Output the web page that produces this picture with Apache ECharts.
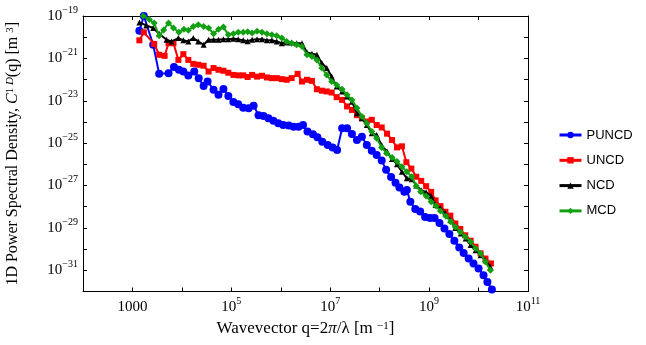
<!DOCTYPE html>
<html>
<head>
<meta charset="utf-8">
<script src="https://cdn.jsdelivr.net/npm/echarts@6/dist/echarts.min.js"></script>
<style>html,body{margin:0;padding:0;background:#fff;}#c{width:646px;height:345px;}</style>
</head>
<body>
<div id="c"></div>
<script>
var seriesNames = ['PUNCD', 'UNCD', 'NCD', 'MCD'];

var puncdQ = [1.38e3,1.7e3,2.63e3,3.47e3,5.37e3,6.92e3,8.7e3,1.07e4,1.35e4,1.78e4,2.19e4,2.75e4,3.31e4,4.37e4,5.5e4,6.92e4,8.7e4,
  1.1e5,1.38e5,1.74e5,2.24e5,2.82e5,3.55e5,4.47e5,5.62e5,7.08e5,8.9e5,1.12e6,1.45e6,1.82e6,2.29e6,2.82e6,3.47e6,4.47e6,5.5e6,6.92e6,8.9e6,
  1.12e7,1.38e7,1.74e7,2.19e7,2.75e7,3.47e7,4.37e7,5.5e7,6.92e7,8.7e7,1.1e8,1.35e8,1.7e8,2.09e8,2.51e8,3.16e8,3.55e8,4.17e8,5.25e8,6.6e8,8.3e8,
  1.05e9,1.29e9,1.62e9,2.04e9,2.57e9,3.24e9,4.07e9,5.0e9,6.3e9,7.9e9,1.0e10,1.26e10,1.51e10,1.86e10];
var puncdC = [2.0e-20,1.0e-19,4.4e-21,1.86e-22,2.0e-22,3.9e-22,2.9e-22,2.4e-22,1.55e-22,2.4e-22,1.17e-22,5.0e-23,8.1e-23,3.3e-23,1.9e-23,3.6e-23,1.7e-23,
  8.7e-24,6.8e-24,4.7e-24,4.4e-24,5.9e-24,2.1e-24,1.9e-24,1.5e-24,1.15e-24,8.7e-25,7.2e-25,6.8e-25,6.0e-25,6.0e-25,7.2e-25,3.5e-25,2.6e-25,1.9e-25,1.17e-25,8.1e-26,
  6.3e-26,4.8e-26,5.0e-25,5.0e-25,2.7e-25,1.4e-25,2.0e-25,8.1e-26,4.4e-26,2.75e-26,1.5e-26,5.6e-27,2.5e-27,1.35e-27,8.1e-28,5.1e-28,6.2e-28,1.7e-28,7.9e-29,6.0e-29,3.3e-29,
  2.95e-29,2.95e-29,1.7e-29,9.5e-30,5.1e-30,2.45e-30,1.2e-30,6.6e-31,3.6e-31,2.1e-31,1.23e-31,5.9e-32,2.8e-32,1.23e-32];

var uncdQ = [1.38e3,1.7e3,2.75e3,3.47e3,4.47e3,5.37e3,6.76e3,8.5e3,1.07e4,1.35e4,1.7e4,2.14e4,2.75e4,3.47e4,4.37e4,5.5e4,6.92e4,8.7e4,
  1.1e5,1.38e5,1.74e5,2.14e5,2.63e5,3.31e5,4.17e5,5.25e5,6.6e5,8.3e5,1.05e6,1.32e6,1.66e6,2.19e6,2.69e6,3.39e6,4.27e6,5.37e6,6.76e6,8.5e6,
  1.07e7,1.35e7,1.74e7,2.19e7,2.75e7,3.47e7,4.37e7,5.5e7,6.92e7,8.7e7,1.1e8,1.41e8,1.78e8,2.24e8,2.82e8,3.47e8,4.37e8,5.5e8,6.92e8,8.7e8,
  1.1e9,1.35e9,1.7e9,2.14e9,2.69e9,3.39e9,4.27e9,5.37e9,6.92e9,8.7e9,1.1e10,1.38e10,1.78e10];
var uncdC = [7.1e-21,1.7e-20,4.8e-21,1.48e-21,1.32e-21,5.2e-21,5.2e-21,8.5e-22,1.58e-21,8.5e-22,5.5e-22,5.0e-22,4.5e-22,2.4e-22,3.5e-22,2.9e-22,2.6e-22,2.1e-22,
  1.66e-22,1.58e-22,1.58e-22,1.32e-22,1.66e-22,1.38e-22,1.51e-22,1.26e-22,1.17e-22,1.17e-22,1.05e-22,9.8e-23,1.17e-22,1.86e-22,8.1e-23,9.8e-23,8.7e-23,3.5e-23,3.0e-23,2.75e-23,
  2.45e-23,1.48e-23,1.1e-23,5.4e-24,3.7e-24,2.1e-24,1.5e-24,1.05e-24,1.26e-24,7.2e-25,5.5e-25,2.8e-25,1.4e-25,6.3e-26,7.1e-26,1.26e-26,6.3e-27,2.6e-27,1.66e-27,9.3e-28,
  5.0e-28,2.0e-28,1.07e-28,5.8e-29,3.8e-29,1.62e-29,8.9e-30,4.5e-30,2.5e-30,1.29e-30,6.3e-31,3.6e-31,2.1e-31];

var ncdQ = [1.38e3,1.9e3,2.63e3,3.47e3,4.9e3,6.17e3,8.5e3,1.07e4,1.35e4,1.7e4,2.14e4,2.75e4,3.47e4,4.37e4,5.5e4,6.92e4,8.7e4,
  1.1e5,1.38e5,1.74e5,2.14e5,2.63e5,3.31e5,4.17e5,5.25e5,6.6e5,8.3e5,1.05e6,1.32e6,1.66e6,2.09e6,2.69e6,3.39e6,4.27e6,5.37e6,6.76e6,8.5e6,
  1.07e7,1.35e7,1.74e7,2.19e7,2.75e7,3.47e7,4.37e7,5.5e7,6.92e7,8.7e7,1.1e8,1.41e8,1.78e8,2.24e8,2.82e8,3.55e8,4.47e8,5.5e8,6.92e8,8.7e8,
  1.1e9,1.35e9,1.7e9,2.14e9,2.69e9,3.39e9,4.37e9,5.5e9,6.92e9,8.7e9,1.1e10,1.38e10,1.74e10];
var ncdC = [5.0e-20,3.6e-20,2.7e-20,1.45e-20,7.6e-21,6.3e-21,9.1e-21,7.1e-21,6.3e-21,9.1e-21,6.3e-21,4.4e-21,7.6e-21,7.6e-21,7.6e-21,8.1e-21,8.1e-21,
  8.5e-21,7.9e-21,7.2e-21,6.5e-21,7.6e-21,8.1e-21,8.1e-21,7.1e-21,7.1e-21,6.3e-21,5.2e-21,5.6e-21,5.6e-21,5.2e-21,5.2e-21,1.9e-21,1.66e-21,1.48e-21,6.0e-22,3.5e-22,
  1.38e-22,4.7e-23,2.75e-23,1.58e-23,9.1e-24,2.6e-24,1.5e-24,7.2e-25,2.95e-25,2.45e-25,7.9e-26,4.0e-26,1.78e-26,1.0e-26,4.5e-27,2.2e-27,2.0e-27,1.0e-27,6.0e-28,4.8e-28,
  3.2e-28,1.2e-28,8.3e-29,4.9e-29,2.3e-29,1.0e-29,5.5e-30,3.2e-30,1.55e-30,8.9e-31,5.2e-31,3.0e-31,1.45e-31];

var mcdQ = [1.66e3,2.19e3,2.75e3,3.47e3,4.27e3,5.37e3,6.76e3,8.7e3,1.1e4,1.35e4,1.7e4,2.14e4,2.75e4,3.47e4,4.37e4,5.5e4,6.92e4,8.7e4,
  1.1e5,1.38e5,1.74e5,2.14e5,2.63e5,3.31e5,4.17e5,5.25e5,6.6e5,8.3e5,1.05e6,1.32e6,1.66e6,2.09e6,2.69e6,3.39e6,4.27e6,5.37e6,6.76e6,8.5e6,
  1.07e7,1.35e7,1.74e7,2.19e7,2.75e7,3.47e7,4.37e7,5.5e7,6.92e7,8.7e7,1.1e8,1.38e8,1.78e8,2.24e8,2.82e8,3.55e8,4.47e8,5.5e8,6.76e8,8.7e8,
  1.1e9,1.38e9,1.7e9,2.19e9,2.75e9,3.39e9,4.27e9,5.37e9,6.92e9,8.7e9,1.1e10,1.38e10,1.74e10];
var mcdC = [1.0e-19,6.8e-20,4.7e-20,1.17e-20,2.2e-20,4.7e-20,2.7e-20,1.7e-20,2.4e-20,2.1e-20,3.2e-20,3.9e-20,3.2e-20,2.7e-20,1.45e-20,2.4e-20,3.0e-20,1.32e-20,
  1.45e-20,1.7e-20,1.7e-20,1.8e-20,1.58e-20,1.9e-20,1.7e-20,1.45e-20,1.32e-20,1.17e-20,9.1e-21,6.3e-21,5.2e-21,4.4e-21,3.6e-21,1.48e-21,1.23e-21,8.5e-22,3.5e-22,1.66e-22,
  8.1e-23,5.6e-23,3.5e-23,1.9e-23,1.1e-23,4.5e-24,1.82e-24,8.7e-25,3.5e-25,1.7e-25,6.3e-26,3.3e-26,2.1e-26,1.35e-26,7.8e-27,4.5e-27,2.6e-27,9.5e-28,5.1e-28,3.2e-28,
  1.7e-28,1.07e-28,6.3e-29,3.6e-29,1.95e-29,1.12e-29,6.5e-30,3.8e-30,2.2e-30,1.07e-30,6.2e-31,2.5e-31,1.0e-31];

var xMin = 1e2, xMax = 1e11, yMin = 1e-32, yMax = 1e-19;

function pairs(q, c) { return q.map(function (v, i) { return [v, c[i]]; }); }
function expOf(v) { var e = Math.log10(v); var r = Math.round(e); return Math.abs(e - r) < 1e-6 ? r : null; }
var SERIF = '"Liberation Serif","Times New Roman",serif';
var richLbl = {
  n: { fontFamily: SERIF, fontSize: 15, color: '#000', lineHeight: 22 },
  s: { fontFamily: SERIF, fontSize: 10, color: '#000', lineHeight: 11, verticalAlign: 'top' }
};
function xFmt(v) {
  var e = expOf(v); if (e === null || e % 2 === 0) return '';
  if (e === 3) return '{n|1000}';
  return '{n|10}{s|' + e + '}';
}
function yFmt(v) {
  var e = expOf(v); if (e === null || e % 2 === 0) return '';
  return '{n|10}{s|\u2212' + (-e) + '}';
}
var lineAx = { show: true, onZero: false, lineStyle: { color: '#000', width: 1 } };
var tickAx = { show: true, inside: true, length: 4, interval: 0, lineStyle: { color: '#000', width: 1 } };
function titleRich(fs) {
  return {
    i: { fontFamily: SERIF, fontStyle: 'italic', fontSize: fs, color: '#000' },
    s: { fontFamily: SERIF, fontSize: 11, color: '#000', verticalAlign: 'top', lineHeight: 10 },
    si: { fontFamily: SERIF, fontStyle: 'italic', fontSize: 11, color: '#000', verticalAlign: 'top', lineHeight: 10 }
  };
}

var chart = echarts.init(document.getElementById('c'), null, { renderer: 'canvas' });
var colors = ['#0000ff', '#ff0000', '#000000', '#12a012'];
var symbols = ['circle', 'rect', 'triangle', 'diamond'];
var sizes = [8, 6, 6, 7];
var datas = [pairs(puncdQ, puncdC), pairs(uncdQ, uncdC), pairs(ncdQ, ncdC), pairs(mcdQ, mcdC)];

chart.setOption({
  animation: false,
  backgroundColor: '#fff',
  grid: { left: 83, right: 118, top: 16, bottom: 53.5, containLabel: false, outerBoundsMode: 'none' },
  legend: {
    orient: 'vertical', left: 553, top: 123.5, itemWidth: 22, itemHeight: 8, itemGap: 12.3,
    data: seriesNames, lineStyle: { width: 3 },
    textStyle: { fontFamily: '"Liberation Sans",Arial,sans-serif', fontSize: 13, color: '#000' }
  },
  xAxis: [{
    type: 'log', logBase: 10, min: xMin, max: xMax, splitNumber: 9, interval: 1, position: 'bottom',
    axisLine: lineAx, axisTick: tickAx, splitLine: { show: false },
    axisLabel: { interval: 0, margin: 5, formatter: xFmt, rich: richLbl },
    name: 'Wavevector q=2{i|\u03c0}/\u03bb [m {s|\u22121}]', nameLocation: 'middle', nameGap: 29, nameMoveOverlap: false,
    nameTextStyle: { fontFamily: SERIF, fontSize: 17, color: '#000', rich: titleRich(17) }
  }, {
    type: 'log', logBase: 10, min: xMin, max: xMax, splitNumber: 9, interval: 1, position: 'top',
    axisLine: lineAx, axisTick: tickAx, splitLine: { show: false }, axisLabel: { show: false }
  }],
  yAxis: [{
    type: 'log', logBase: 10, min: yMin, max: yMax, splitNumber: 13, interval: 1, position: 'left',
    axisLine: lineAx, axisTick: tickAx, splitLine: { show: false },
    axisLabel: { interval: 0, margin: 5, formatter: yFmt, rich: richLbl },
    name: '1D Power Spectral Density, {i|C}{s|1 }{si|D}(q) [m {s|3}]', nameLocation: 'middle', nameGap: 62, nameRotate: 90, nameMoveOverlap: false,
    nameTextStyle: { fontFamily: SERIF, fontSize: 16, color: '#000', rich: titleRich(16) }
  }, {
    type: 'log', logBase: 10, min: yMin, max: yMax, splitNumber: 13, interval: 1, position: 'right',
    axisLine: lineAx, axisTick: tickAx, splitLine: { show: false }, axisLabel: { show: false }
  }],
  series: seriesNames.map(function (n, i) {
    return {
      name: n, type: 'line', xAxisIndex: 0, yAxisIndex: 0, data: datas[i],
      symbol: symbols[i], symbolSize: sizes[i], showSymbol: true,
      lineStyle: { color: colors[i], width: 2 },
      itemStyle: { color: colors[i], borderWidth: 0 },
      clip: true, z: 2 + i
    };
  })
});
</script>
</body>
</html>
